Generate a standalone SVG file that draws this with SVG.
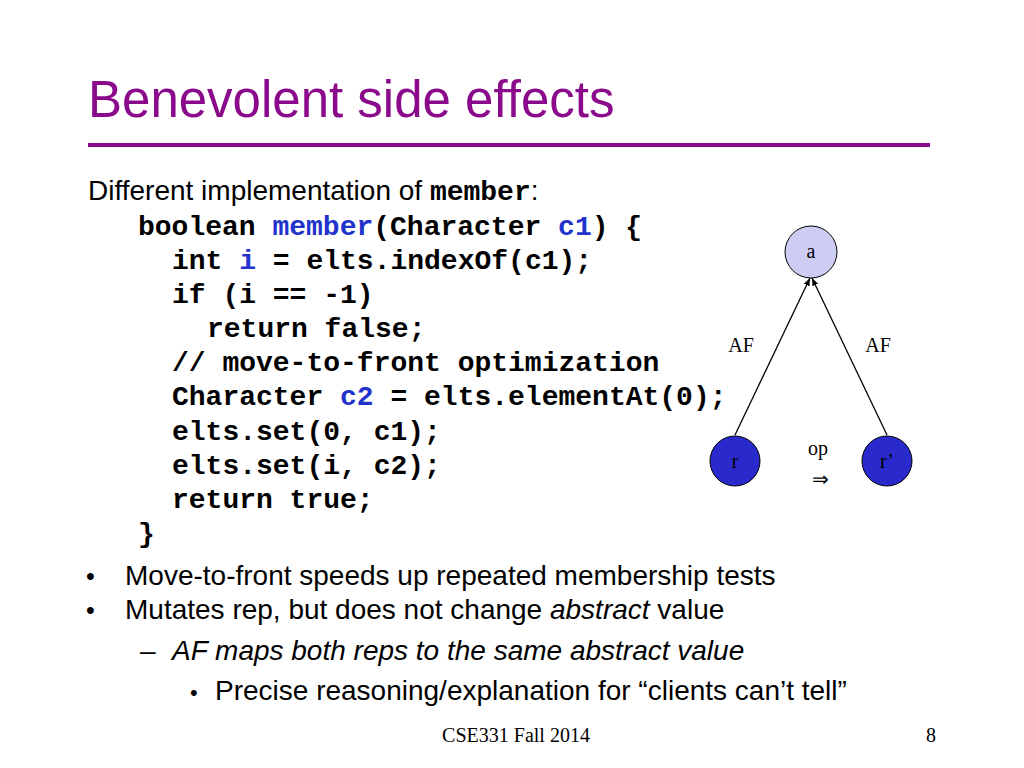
<svg xmlns="http://www.w3.org/2000/svg" width="1024" height="768" viewBox="0 0 1024 768">
<style>
.s{font-family:"Liberation Sans",Arial,sans-serif;font-size:28px;fill:#000}
.m{font-family:"Liberation Mono","Courier New",monospace;font-size:28px;font-weight:bold;fill:#000}
.b{fill:#2233cc}
.t{font-family:"Liberation Serif","Times New Roman",serif;font-size:20px;fill:#000}
</style>
<defs><marker id="ah" viewBox="0 0 10 10" refX="10" refY="5" markerWidth="6" markerHeight="6" orient="auto"><path d="M0,1 L10,5 L0,9 z" fill="#000"/></marker></defs>
<rect width="1024" height="768" fill="#fff"/>
<text x="88" y="117" font-family="Liberation Sans,Arial,sans-serif" font-size="51" fill="#8b0a8b">Benevolent side effects</text>
<rect x="88" y="143" width="842" height="4" fill="#8b0a8b"/>
<text x="88" y="200" class="s" font-size="26">Different implementation of <tspan class="m" font-size="24">member</tspan>:</text>
<text class="m" xml:space="preserve"><tspan x="138" y="235">boolean <tspan class="b">member</tspan>(Character <tspan class="b">c1</tspan>) {</tspan><tspan x="172" y="269">int <tspan class="b">i</tspan> = elts.indexOf(c1);</tspan><tspan x="172" y="303">if (i == -1)</tspan><tspan x="207" y="337">return false;</tspan><tspan x="172" y="371">// move-to-front optimization</tspan><tspan x="172" y="405">Character <tspan class="b">c2</tspan> = elts.elementAt(0);</tspan><tspan x="172" y="440">elts.set(0, c1);</tspan><tspan x="172" y="474">elts.set(i, c2);</tspan><tspan x="172" y="508">return true;</tspan><tspan x="138" y="542">}</tspan></text>
<text class="s"><tspan x="86" y="585" font-size="25">•</tspan><tspan x="125" y="585">Move-to-front speeds up repeated membership tests</tspan><tspan x="86" y="619" font-size="25">•</tspan><tspan x="125" y="619">Mutates rep, but does not change <tspan font-style="italic">abstract</tspan> value</tspan><tspan x="140" y="660">–</tspan><tspan x="172" y="660" font-style="italic">AF maps both reps to the same abstract value</tspan><tspan x="190" y="700" font-size="22">•</tspan><tspan x="215" y="700">Precise reasoning/explanation for “clients can’t tell”</tspan></text>
<text x="516" y="742" class="t" font-size="18" text-anchor="middle">CSE331 Fall 2014</text>
<text x="936" y="742" class="t" font-size="18" text-anchor="end">8</text>
<g id="connectors" stroke="#000" stroke-width="1.3">
<line x1="735" y1="435" x2="810" y2="278" marker-end="url(#ah)"/>
<line x1="887" y1="435" x2="812" y2="278" marker-end="url(#ah)"/>
</g>
<text x="741" y="352" class="t" text-anchor="middle">AF</text>
<text x="878" y="352" class="t" text-anchor="middle">AF</text>
<g id="a"><circle cx="811" cy="252" r="26" fill="#ccccf5" stroke="#000" stroke-width="1"/><text x="811" y="258" class="t" font-size="18" text-anchor="middle">a</text></g>
<g id="r"><circle cx="735" cy="461" r="25" fill="#2a2acc" stroke="#000" stroke-width="1"/><text x="735" y="468" class="t" font-size="18" text-anchor="middle">r</text></g>
<g id="rp"><circle cx="887" cy="461" r="25" fill="#2a2acc" stroke="#000" stroke-width="1"/><text x="887" y="468" class="t" font-size="18" text-anchor="middle">r’</text></g>
<text x="818" y="455" class="t" text-anchor="middle">op</text>
<text x="820" y="486" class="t" text-anchor="middle" font-family="DejaVu Sans,sans-serif" font-size="24">⇒</text>
</svg>
